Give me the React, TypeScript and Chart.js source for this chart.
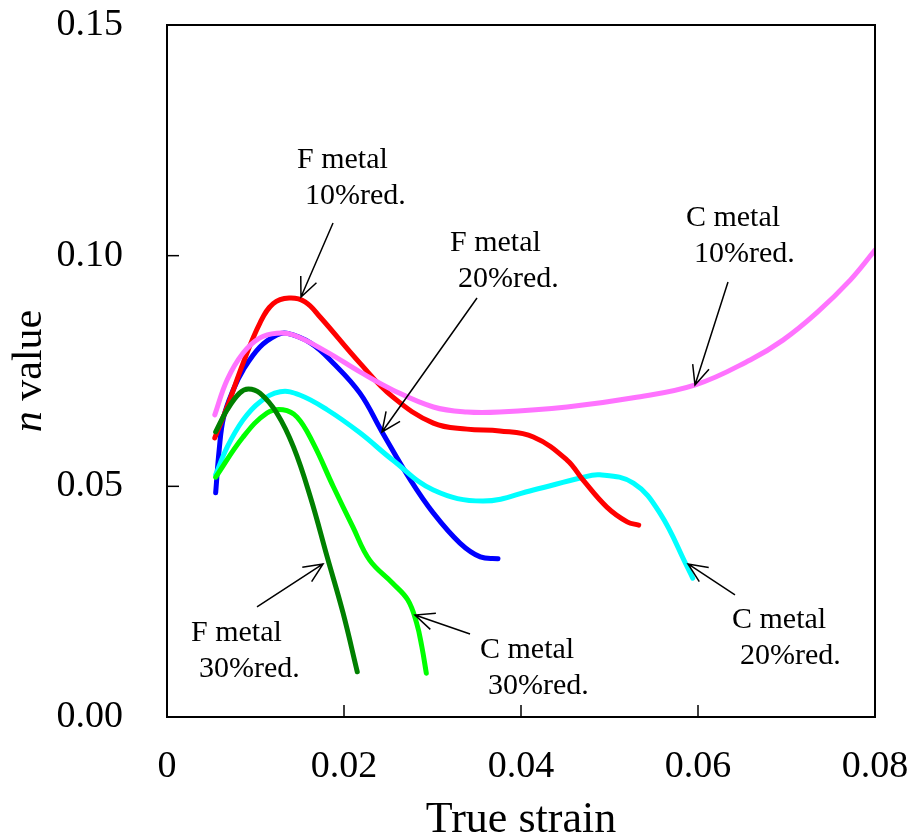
import React, { useEffect, useRef } from "react";
import { Chart, registerables } from "chart.js";

Chart.register(...registerables);

// ---- data (true strain vs. n value) ----
const fMetal10X = [0.0054, 0.0068, 0.0086, 0.0105, 0.012, 0.0138, 0.0156, 0.0173, 0.0218, 0.0255, 0.0301, 0.0339, 0.0376, 0.0414, 0.0452, 0.047, 0.0497, 0.052, 0.0533];
const fMetal10Y = [0.0605, 0.0672, 0.0767, 0.0854, 0.0896, 0.0908, 0.09, 0.0867, 0.0767, 0.0694, 0.0637, 0.0624, 0.062, 0.0607, 0.0557, 0.0514, 0.0455, 0.0423, 0.0416];

const fMetal20X = [0.0055, 0.0059, 0.0064, 0.0075, 0.0086, 0.0105, 0.0124, 0.0135, 0.0162, 0.0188, 0.0218, 0.0243, 0.0275, 0.0301, 0.0331, 0.0354, 0.0374];
const fMetal20Y = [0.0486, 0.058, 0.065, 0.071, 0.0752, 0.0802, 0.0828, 0.0832, 0.0811, 0.0767, 0.0702, 0.0618, 0.0514, 0.0442, 0.0377, 0.0347, 0.0343];

const fMetal30X = [0.0055, 0.0068, 0.0082, 0.0092, 0.0105, 0.0124, 0.0143, 0.0162, 0.0181, 0.0199, 0.0215];
const fMetal30Y = [0.0618, 0.0666, 0.0702, 0.0711, 0.0702, 0.0659, 0.0585, 0.0477, 0.0347, 0.0225, 0.0098];

const cMetal10X = [0.0054, 0.0068, 0.0086, 0.0105, 0.0124, 0.0143, 0.0181, 0.0218, 0.0255, 0.0301, 0.0339, 0.0376, 0.0452, 0.0527, 0.0597, 0.0659, 0.0696, 0.0734, 0.0772, 0.08];
const cMetal10Y = [0.0655, 0.0731, 0.0789, 0.0822, 0.0832, 0.0828, 0.0791, 0.0748, 0.0709, 0.0672, 0.0661, 0.0661, 0.0672, 0.0692, 0.072, 0.0774, 0.0817, 0.0876, 0.0947, 0.1012];

const cMetal20X = [0.0055, 0.0068, 0.0086, 0.0105, 0.0128, 0.015, 0.0181, 0.0218, 0.0255, 0.0301, 0.0357, 0.0414, 0.0467, 0.0489, 0.0527, 0.0557, 0.0588, 0.0594];
const cMetal20Y = [0.0525, 0.0585, 0.0644, 0.0683, 0.0705, 0.0698, 0.0666, 0.0616, 0.0557, 0.0492, 0.0468, 0.0492, 0.0518, 0.0525, 0.0507, 0.0442, 0.0325, 0.0301];

const cMetal30X = [0.0055, 0.0086, 0.0113, 0.0131, 0.0147, 0.0165, 0.0188, 0.021, 0.0229, 0.0255, 0.0272, 0.0282, 0.0288, 0.0293];
const cMetal30Y = [0.052, 0.0607, 0.0659, 0.0666, 0.065, 0.0594, 0.0499, 0.0412, 0.034, 0.029, 0.0254, 0.0204, 0.0152, 0.0095];

// ---- axes ----
const xMin = 0;
const xMax = 0.08;
const xStep = 0.02;
const yMin = 0;
const yMax = 0.15;
const yStep = 0.05;
const xTitle = "True strain";
const yTitleItalic = "n";
const yTitleRest = " value";

// ---- callouts: text anchor (first line, left/middle) and arrow tail -> head, in data units ----
const calloutLines = [
  ["F metal", "10%red."],
  ["F metal", "20%red."],
  ["C metal", "10%red."],
  ["F metal", "30%red."],
  ["C metal", "30%red."],
  ["C metal", "20%red."],
];
const calloutTextX = [0.01469, 0.03198, 0.05864, 0.00271, 0.03537, 0.06384];
const calloutTextY = [0.12075, 0.10275, 0.10817, 0.01821, 0.01452, 0.02103];
const arrowFromX = [0.01876, 0.03503, 0.06339, 0.01017, 0.03424, 0.06418];
const arrowFromY = [0.10709, 0.09083, 0.0943, 0.02385, 0.01799, 0.02645];
const arrowToX = [0.01514, 0.02429, 0.05966, 0.01763, 0.02802, 0.05887];
const arrowToY = [0.09105, 0.06178, 0.07197, 0.03317, 0.02211, 0.03317];

const SERIF = "'Liberation Serif', 'Times New Roman', serif";

const toPoints = (xs: number[], ys: number[]) => xs.map((x, i) => ({ x, y: ys[i] }));

const series = [
  { label: "F metal 30%red.", xs: fMetal30X, ys: fMetal30Y, color: "#008000" },
  { label: "C metal 30%red.", xs: cMetal30X, ys: cMetal30Y, color: "#00ff00" },
  { label: "C metal 10%red.", xs: cMetal10X, ys: cMetal10Y, color: "#ff73ff" },
  { label: "F metal 10%red.", xs: fMetal10X, ys: fMetal10Y, color: "#ff0000" },
  { label: "C metal 20%red.", xs: cMetal20X, ys: cMetal20Y, color: "#00ffff" },
  { label: "F metal 20%red.", xs: fMetal20X, ys: fMetal20Y, color: "#0000ff" },
];

// frame, inward ticks, axis titles and callouts
const decorations = {
  id: "decorations",
  afterDatasetsDraw(chart: any) {
    const { ctx, chartArea: a, scales } = chart;
    const xs = scales.x;
    const ys = scales.y;
    ctx.save();
    ctx.strokeStyle = "#000";

    // inward tick marks
    ctx.lineWidth = 1.5;
    const tickLen = 12;
    xs.ticks.forEach((t: any) => {
      const px = xs.getPixelForValue(t.value);
      ctx.beginPath();
      ctx.moveTo(px, a.bottom);
      ctx.lineTo(px, a.bottom - tickLen);
      ctx.stroke();
    });
    ys.ticks.forEach((t: any) => {
      const py = ys.getPixelForValue(t.value);
      ctx.beginPath();
      ctx.moveTo(a.left, py);
      ctx.lineTo(a.left + tickLen, py);
      ctx.stroke();
    });

    // plot frame
    ctx.lineWidth = 2;
    ctx.strokeRect(a.left, a.top, a.right - a.left, a.bottom - a.top);

    // callouts
    ctx.fillStyle = "#000";
    ctx.font = `30px ${SERIF}`;
    ctx.textAlign = "left";
    ctx.textBaseline = "middle";
    calloutLines.forEach((lines, i) => {
      const tx = xs.getPixelForValue(calloutTextX[i]);
      const ty = ys.getPixelForValue(calloutTextY[i]);
      lines.forEach((line, j) => ctx.fillText(line, tx + j * 8, ty + j * 36));

      const fx = xs.getPixelForValue(arrowFromX[i]);
      const fy = ys.getPixelForValue(arrowFromY[i]);
      const hx = xs.getPixelForValue(arrowToX[i]);
      const hy = ys.getPixelForValue(arrowToY[i]);
      ctx.lineWidth = 1.5;
      ctx.beginPath();
      ctx.moveTo(fx, fy);
      ctx.lineTo(hx, hy);
      const ang = Math.atan2(hy - fy, hx - fx);
      const barb = 21;
      const spread = 0.42;
      ctx.moveTo(hx - barb * Math.cos(ang - spread), hy - barb * Math.sin(ang - spread));
      ctx.lineTo(hx, hy);
      ctx.lineTo(hx - barb * Math.cos(ang + spread), hy - barb * Math.sin(ang + spread));
      ctx.stroke();
    });

    // x axis title
    ctx.font = `44px ${SERIF}`;
    ctx.textAlign = "center";
    ctx.textBaseline = "middle";
    ctx.fillText(xTitle, (a.left + a.right) / 2, a.bottom + 103);

    // y axis title, italic "n"
    ctx.translate(30, (a.top + a.bottom) / 2);
    ctx.rotate(-Math.PI / 2);
    ctx.font = `italic 42px ${SERIF}`;
    const w1 = ctx.measureText(yTitleItalic).width;
    ctx.font = `42px ${SERIF}`;
    const w2 = ctx.measureText(yTitleRest).width;
    const start = -(w1 + w2) / 2;
    ctx.textAlign = "left";
    ctx.font = `italic 42px ${SERIF}`;
    ctx.fillText(yTitleItalic, start, 0);
    ctx.font = `42px ${SERIF}`;
    ctx.fillText(yTitleRest, start + w1, 0);

    ctx.restore();
  },
};

// keep tick labels from pushing the plot area inwards
const noLabelPadding = (scale: any) => {
  scale.paddingTop = 0;
  scale.paddingBottom = 0;
  scale.paddingLeft = 0;
  scale.paddingRight = 0;
};

export default function App() {
  const canvasRef = useRef<HTMLCanvasElement | null>(null);

  useEffect(() => {
    const canvas = canvasRef.current;
    if (!canvas) return;
    const chart = new Chart(canvas, {
      type: "line",
      data: {
        datasets: series.map((s) => ({
          label: s.label,
          data: toPoints(s.xs, s.ys),
          borderColor: s.color,
          backgroundColor: s.color,
          borderWidth: 5,
          borderCapStyle: "round",
          borderJoinStyle: "round",
          pointRadius: 0,
          fill: false,
          tension: 0.4,
        })),
      },
      options: {
        responsive: false,
        animation: false,
        devicePixelRatio: 1,
        layout: { autoPadding: false, padding: { left: 0, right: 34, top: 25, bottom: 0 } },
        plugins: { legend: { display: false }, tooltip: { enabled: false } },
        scales: {
          x: {
            type: "linear",
            min: xMin,
            max: xMax,
            grid: { display: false, drawTicks: false },
            border: { display: false },
            ticks: {
              stepSize: xStep,
              color: "#000",
              padding: 27,
              maxRotation: 0,
              font: { family: SERIF, size: 38 },
              callback: (v: any) => (Number(v) === 0 ? "0" : Number(v).toFixed(2)),
            },
            afterFit: (scale: any) => {
              scale.height = 121;
              noLabelPadding(scale);
            },
          },
          y: {
            type: "linear",
            min: yMin,
            max: yMax,
            grid: { display: false, drawTicks: false },
            border: { display: false },
            ticks: {
              stepSize: yStep,
              color: "#000",
              padding: 44,
              font: { family: SERIF, size: 38 },
              callback: (v: any) => Number(v).toFixed(2),
            },
            afterFit: (scale: any) => {
              scale.width = 167;
              noLabelPadding(scale);
            },
          },
        },
      },
      plugins: [decorations],
    });
    return () => chart.destroy();
  }, []);

  return (
    <div style={{ position: "absolute", left: 0, top: 0, width: 909, height: 838, background: "#fff" }}>
      <canvas ref={canvasRef} width={909} height={838} />
    </div>
  );
}
